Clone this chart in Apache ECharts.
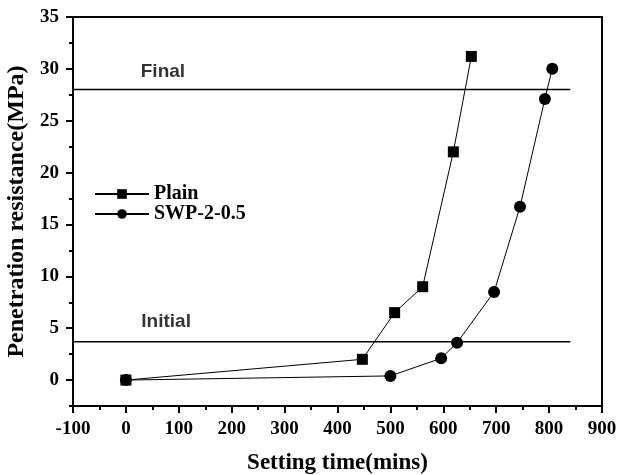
<!DOCTYPE html>
<html>
<head>
<meta charset="utf-8">
<script src="https://cdn.jsdelivr.net/npm/echarts@6/dist/echarts.min.js"></script>
<style>
html, body { margin: 0; padding: 0; background: #fff; }
#chart { width: 617px; height: 475px; }
</style>
</head>
<body>
<div id="chart"></div>
<script>
// setting time (mins) vs penetration resistance (MPa)
const plainX = [0, 447, 508, 561, 619, 653]
const plainY = [0, 2, 6.5, 9, 22, 31.2]
const swpX = [0, 500, 596, 626, 696, 745, 792, 806]
const swpY = [0, 0.4, 2.1, 3.6, 8.5, 16.7, 27.1, 30]
// setting thresholds
const finalLevel = 28
const initialLevel = 3.7
const levelStartX = -100
const levelEndX = 840
// tick values
const yMajorTicks = [0, 5, 10, 15, 20, 25, 30, 35]
const yMinorTicks = [-2.5, 2.5, 7.5, 12.5, 17.5, 22.5, 27.5, 32.5]
// annotation text
const levelLabels = [[70, 29.7, 'Final'], [76, 5.6, 'Initial']]

const serif = '"Liberation Serif", "Times New Roman", serif'
const black = '#000'

const chart = echarts.init(document.getElementById('chart'))

const zip = (xs, ys) => xs.map((x, i) => [x, ys[i]])

const option = {
  animation: false,
  backgroundColor: '#fff',
  grid: { left: 73, right: 15, top: 17, bottom: 69, outerBoundsMode: 'none', containLabel: false },
  legend: {
    orient: 'vertical',
    left: 94,
    top: 184,
    padding: 0,
    itemWidth: 54,
    itemHeight: 12,
    itemGap: 0,
    data: ['Plain', 'SWP-2-0.5'],
    textStyle: { fontFamily: serif, fontWeight: 'bold', fontSize: 20, color: black }
  },
  xAxis: [
    {
      type: 'value',
      min: -100,
      max: 900,
      interval: 100,
      name: 'Setting time(mins)',
      nameLocation: 'middle',
      nameGap: 46,
      nameTextStyle: { fontFamily: serif, fontWeight: 'bold', fontSize: 23, color: black },
      axisLine: { onZero: false, lineStyle: { color: black, width: 2 } },
      axisTick: { length: 7, lineStyle: { color: black, width: 2 } },
      minorTick: { show: true, splitNumber: 2, length: 4, lineStyle: { color: black, width: 2 } },
      axisLabel: { margin: 14, fontFamily: serif, fontWeight: 'bold', fontSize: 19, color: black },
      splitLine: { show: false }
    },
    {
      type: 'value',
      position: 'top',
      min: -100,
      max: 900,
      axisLine: { onZero: false, lineStyle: { color: black, width: 2 } },
      axisTick: { show: false },
      axisLabel: { show: false },
      splitLine: { show: false }
    }
  ],
  yAxis: [
    {
      type: 'value',
      position: 'left',
      min: -2.5,
      max: 35,
      interval: 2.5,
      name: 'Penetration resistance(MPa)',
      nameLocation: 'middle',
      nameGap: 44,
      nameTextStyle: { fontFamily: serif, fontWeight: 'bold', fontSize: 24, color: black },
      axisLine: { onZero: false, lineStyle: { color: black, width: 2 } },
      axisTick: { length: 7, customValues: yMajorTicks, lineStyle: { color: black, width: 2 } },
      axisLabel: {
        margin: 14,
        customValues: yMajorTicks,
        formatter: v => (yMajorTicks.includes(v) ? String(v) : ''),
        fontFamily: serif, fontWeight: 'bold', fontSize: 19, color: black
      },
      splitLine: { show: false }
    },
    {
      type: 'value',
      position: 'left',
      min: -2.5,
      max: 35,
      interval: 2.5,
      axisLine: { show: false, onZero: false },
      axisTick: { length: 4, customValues: yMinorTicks, lineStyle: { color: black, width: 2 } },
      axisLabel: { show: false },
      splitLine: { show: false }
    },
    {
      type: 'value',
      position: 'right',
      min: -2.5,
      max: 35,
      axisLine: { onZero: false, lineStyle: { color: black, width: 2 } },
      axisTick: { show: false },
      axisLabel: { show: false },
      splitLine: { show: false }
    }
  ],
  series: [
    {
      name: 'finalLine',
      type: 'line',
      symbol: 'none',
      silent: true,
      lineStyle: { color: black, width: 1.5 },
      data: [[levelStartX, finalLevel], [levelEndX, finalLevel]],
      z: 1
    },
    {
      name: 'initialLine',
      type: 'line',
      symbol: 'none',
      silent: true,
      lineStyle: { color: black, width: 1.5 },
      data: [[levelStartX, initialLevel], [levelEndX, initialLevel]],
      z: 1
    },
    {
      name: 'levelText',
      type: 'scatter',
      symbolSize: 0,
      silent: true,
      label: {
        show: true,
        position: 'inside',
        formatter: p => p.data[2],
        fontFamily: '"Liberation Sans", Arial, sans-serif',
        fontWeight: 'bold',
        fontSize: 19,
        color: black
      },
      data: levelLabels
    },
    {
      name: 'Plain',
      type: 'line',
      symbol: 'rect',
      symbolSize: 11,
      itemStyle: { color: black },
      lineStyle: { color: black, width: 1 },
      data: zip(plainX, plainY),
      z: 3
    },
    {
      name: 'SWP-2-0.5',
      type: 'line',
      symbol: 'circle',
      symbolSize: 12,
      itemStyle: { color: black },
      lineStyle: { color: black, width: 1 },
      data: zip(swpX, swpY),
      z: 3
    }
  ]
}

chart.setOption(option)
</script>
</body>
</html>
